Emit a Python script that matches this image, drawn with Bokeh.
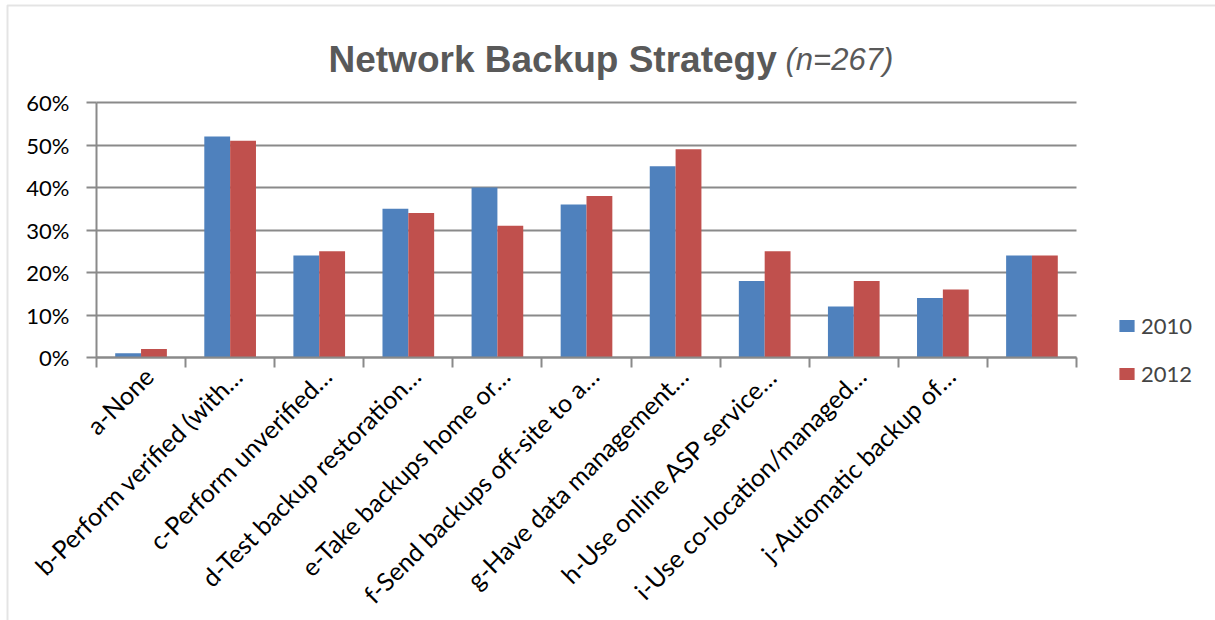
import math
from bokeh.plotting import figure
from bokeh.models import (Range1d, FixedTicker, NumeralTickFormatter, Label, Legend, LegendItem,
                          ColumnDataSource, Grid, BoxAnnotation)
from bokeh.transform import dodge
from bokeh.embed import file_html
from bokeh.resources import INLINE

# ---- data ----
categories = ["a-None", "b-Perform verified (with\u2026", "c-Perform unverified\u2026",
              "d-Test backup restoration\u2026", "e-Take backups home or\u2026",
              "f-Send backups off-site to a\u2026", "g-Have data management\u2026",
              "h-Use online ASP service\u2026", "i-Use co-location/managed\u2026",
              "j-Automatic backup of\u2026", ""]
series_names = ["2010", "2012"]
values_2010 = [0.01, 0.52, 0.24, 0.35, 0.40, 0.36, 0.45, 0.18, 0.12, 0.14, 0.24]
values_2012 = [0.02, 0.51, 0.25, 0.34, 0.31, 0.38, 0.49, 0.25, 0.18, 0.16, 0.24]
y_ticks = [0.0, 0.1, 0.2, 0.3, 0.4, 0.5, 0.6]
title_main = "Network Backup Strategy"
title_sub = "(n=267)"

# ---- styling / layout ----
W, H = 1215, 620
plot_left, plot_right, plot_top, plot_bottom = 96, 1076, 102, 357   # pixel box of the value area
colors = ["#4F81BD", "#C0504D"]
grid_color = "#8a8a8a"
title_color = "#595959"
label_font = "Lato"

n = len(categories)
positions = [i + 1 for i in range(n)]
boundaries = [i + 0.5 for i in range(n + 1)]

# view window so that the value area lands on the reference pixels
px_x = (plot_right - plot_left) / (boundaries[-1] - boundaries[0])
px_y = (plot_bottom - plot_top) / (y_ticks[-1] - y_ticks[0])
x_start = boundaries[0] - plot_left / px_x
x_end = boundaries[-1] + (W - plot_right) / px_x
y_start = y_ticks[0] - (H - plot_bottom) / px_y
y_end = y_ticks[-1] + plot_top / px_y

# rotated labels are anchored by their top-right corner (as the reference does)
label_shift = 7.5 / px_x
label_ticks = [pos + label_shift for pos in positions]

src = ColumnDataSource(dict(x=positions, v2010=values_2010, v2012=values_2012))

p = figure(width=W, height=H, output_backend="svg", toolbar_location=None,
           x_range=Range1d(x_start, x_end), y_range=Range1d(y_start, y_end),
           title=None, min_border=0, min_border_left=0, min_border_right=0,
           min_border_top=0, min_border_bottom=0)
p.outline_line_color = None
p.background_fill_color = "white"
p.border_fill_color = "white"

# grid lines limited to the value area
if "cross_bounds" in Grid.properties():
    p.ygrid.cross_bounds = (boundaries[0], boundaries[-1])
    p.ygrid.grid_line_color = grid_color
    p.ygrid.grid_line_width = 2
else:
    p.ygrid.visible = False
    p.segment(x0=boundaries[0], x1=boundaries[-1], y0=y_ticks, y1=y_ticks,
              line_color=grid_color, line_width=2)
p.xgrid.visible = False

bw = 0.29
r1 = p.vbar(x=dodge("x", -bw / 2, range=p.x_range), top="v2010", width=bw, source=src,
            fill_color=colors[0], line_color=None)
r2 = p.vbar(x=dodge("x", bw / 2, range=p.x_range), top="v2012", width=bw, source=src,
            fill_color=colors[1], line_color=None)

# y axis
yax = p.yaxis[0]
yax.fixed_location = boundaries[0]
yax.bounds = (y_ticks[0], y_ticks[-1])
yax.ticker = FixedTicker(ticks=y_ticks)
yax.formatter = NumeralTickFormatter(format="0%")
yax.axis_line_color = grid_color
yax.axis_line_width = 2
yax.major_tick_line_color = grid_color
yax.major_tick_line_width = 2
yax.major_tick_out = 10
yax.major_tick_in = 0
yax.minor_tick_line_color = None
yax.major_label_text_font = label_font
yax.major_label_text_font_size = "22px"
yax.major_label_text_color = "black"
yax.major_label_standoff = 17

# x axis
xax = p.xaxis[0]
xax.fixed_location = y_ticks[0]
xax.bounds = (boundaries[0], boundaries[-1])
xax.ticker = FixedTicker(ticks=label_ticks, minor_ticks=boundaries)
xax.major_label_overrides = {t: lab for t, lab in zip(label_ticks, categories)}
xax.major_label_orientation = math.pi / 4
xax.axis_line_color = grid_color
xax.axis_line_width = 2
xax.major_tick_line_color = None
xax.major_tick_out = 10
xax.minor_tick_line_color = grid_color
xax.minor_tick_line_width = 2
xax.minor_tick_out = 10
xax.minor_tick_in = 0
xax.major_label_text_font = label_font
xax.major_label_text_font_size = "25px"
xax.major_label_text_color = "black"
xax.major_label_standoff = 4

# chart border (top and left edges visible in the reference)
p.add_layout(BoxAnnotation(left=7, right=W + 100, top=H - 5, bottom=-100,
                           left_units="screen", right_units="screen",
                           top_units="screen", bottom_units="screen",
                           fill_alpha=0, line_color="#a6a6a6", line_width=2))

# title in two styles
p.add_layout(Label(x=328, y=H - 59, x_units="screen", y_units="screen", text=title_main,
                   text_font="Liberation Sans", text_font_style="bold", text_baseline="alphabetic",
                   text_font_size="37px", text_color=title_color))
p.add_layout(Label(x=785, y=H - 59, x_units="screen", y_units="screen", text=title_sub,
                   text_font="Liberation Sans", text_font_style="italic", text_baseline="alphabetic",
                   text_font_size="31px", text_color=title_color))

legend = Legend(items=[LegendItem(label=series_names[0], renderers=[r1]),
                       LegendItem(label=series_names[1], renderers=[r2])],
                location=(1117, H - 387), padding=0, margin=0, spacing=21,
                glyph_width=19, glyph_height=15, label_standoff=5,
                label_text_font=label_font, label_text_font_size="22px",
                label_height=26, border_line_color=None, background_fill_alpha=0)
p.add_layout(legend, "center")

open("out.html", "w").write(file_html(p, INLINE))
